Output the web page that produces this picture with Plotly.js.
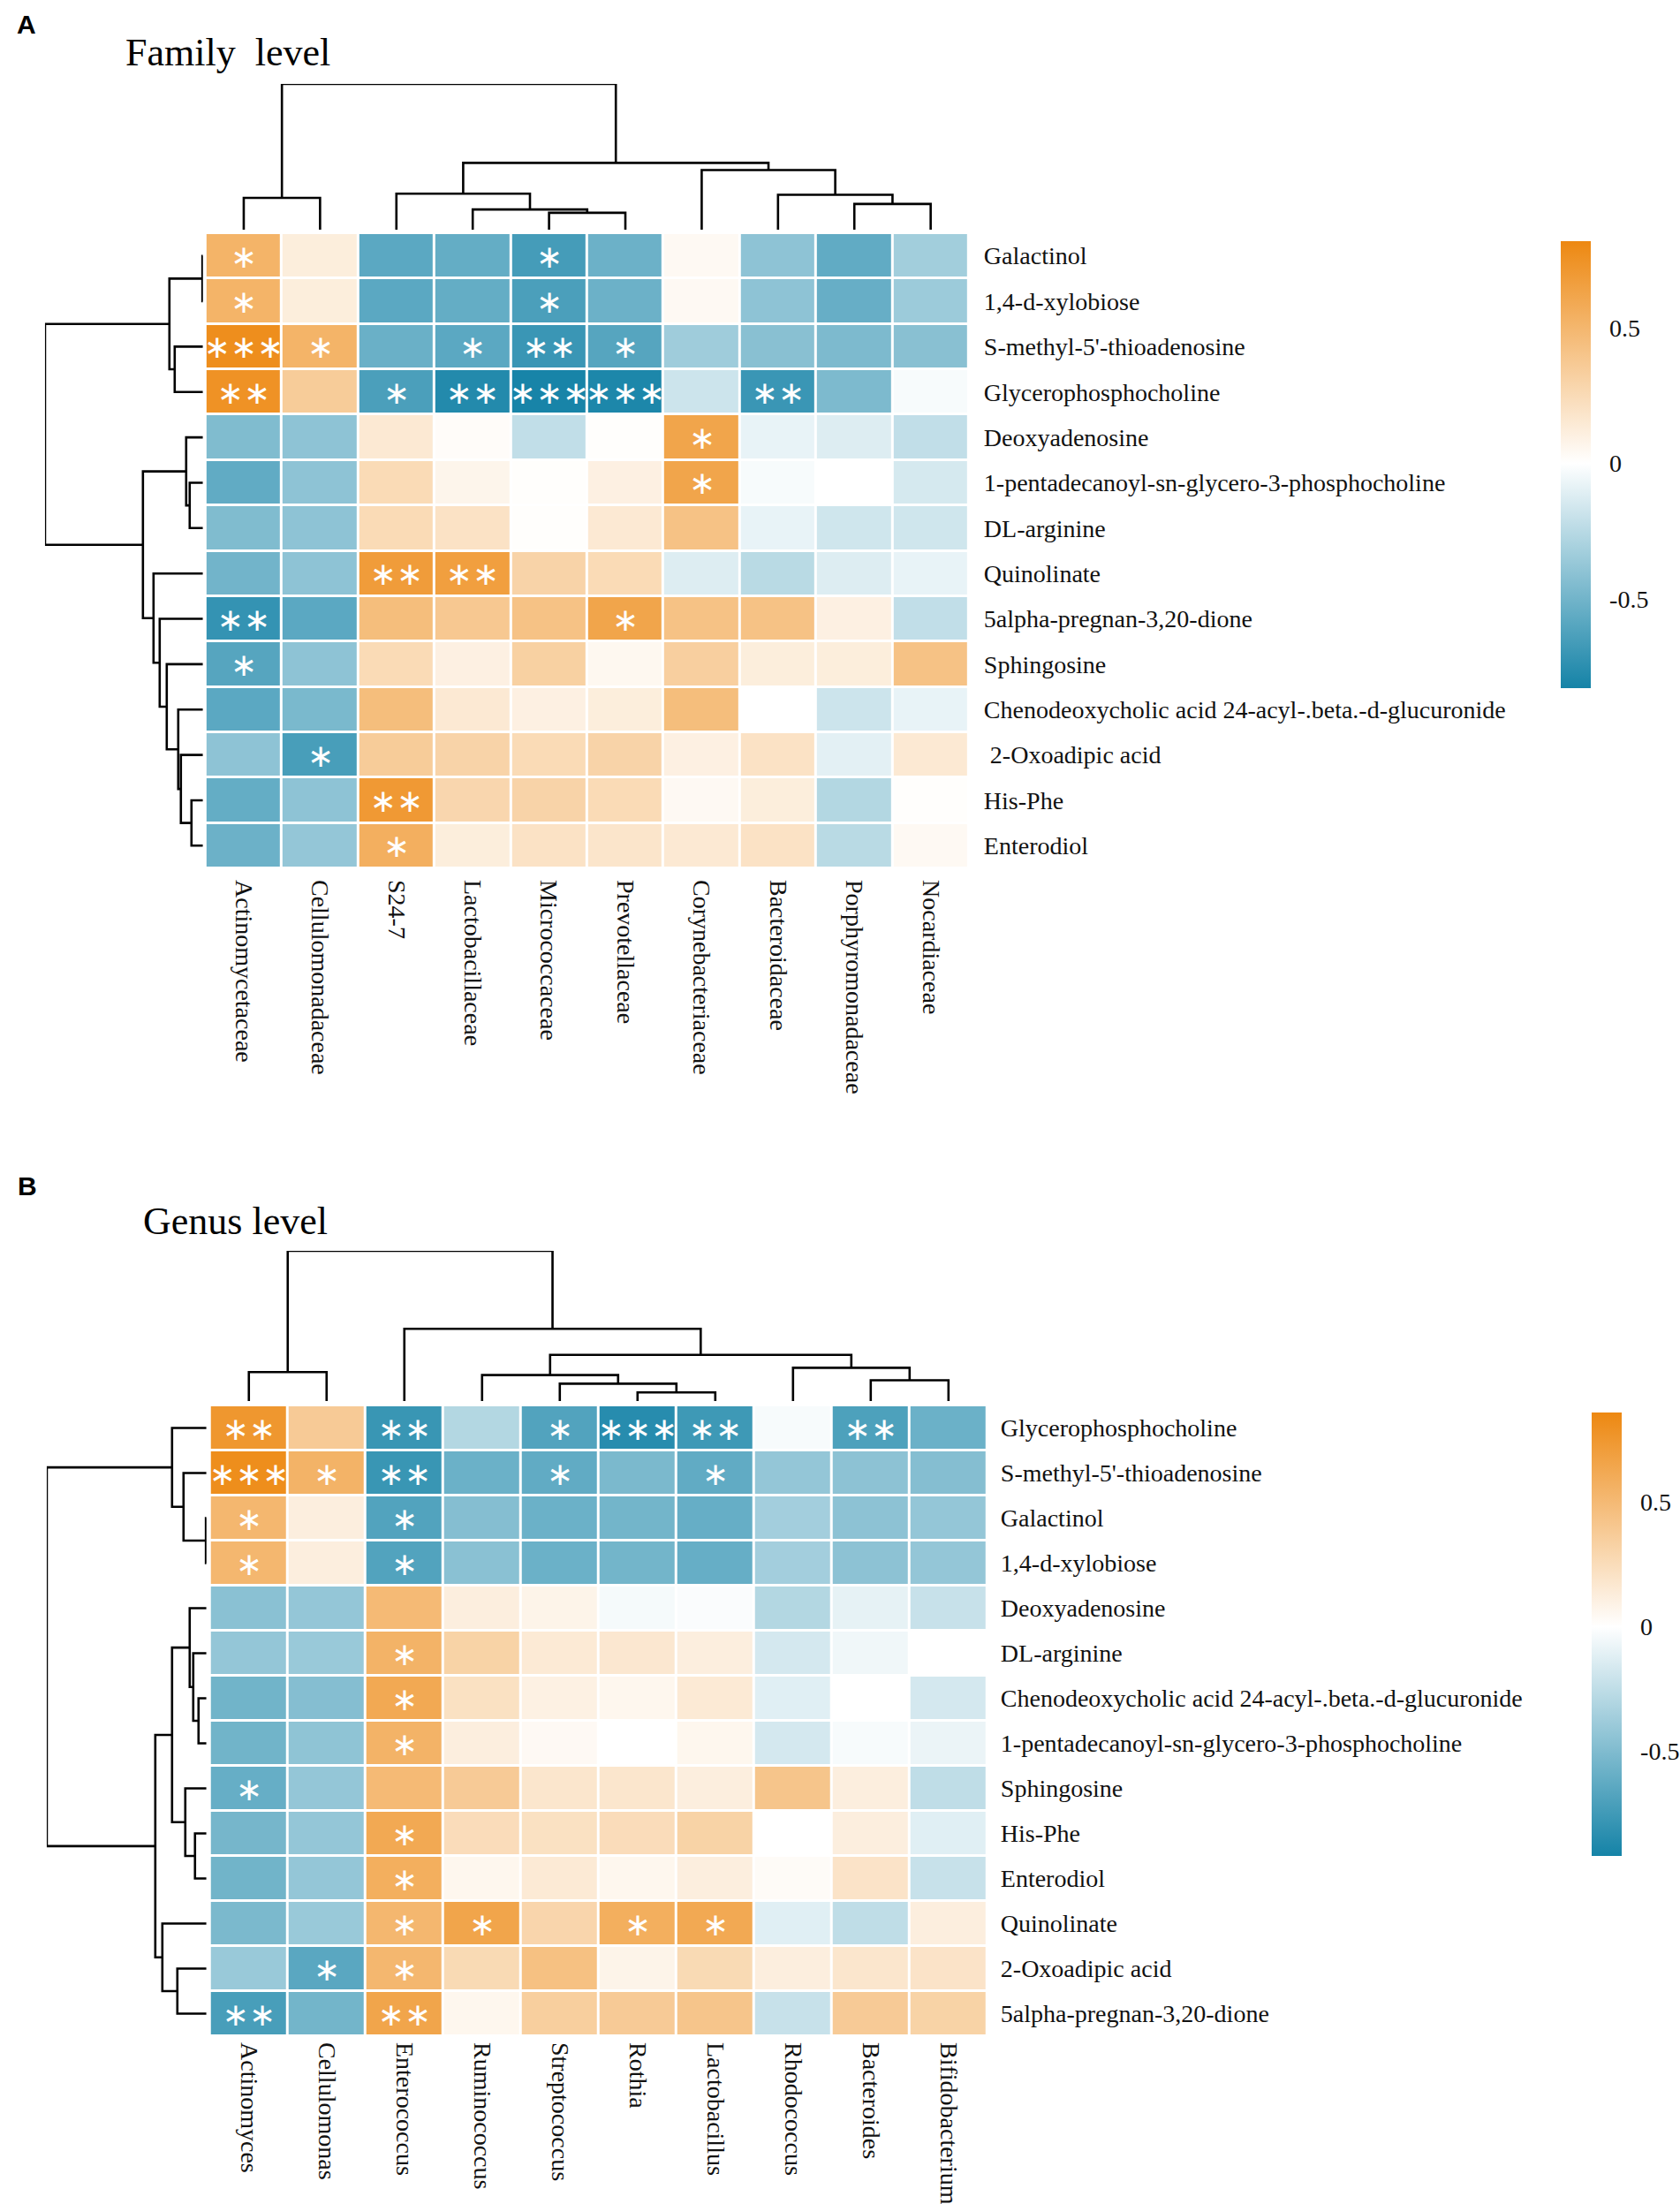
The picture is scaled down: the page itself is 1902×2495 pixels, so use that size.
<!DOCTYPE html>
<html>
<head>
<meta charset="utf-8">
<script src="https://cdn.plot.ly/plotly-3.0.1.min.js"></script>
<style>html,body{margin:0;padding:0;background:#fff;}#chart{width:1902px;height:2495px;}</style>
</head>
<body>
<div id="chart"></div>
<script>
// ---------- Panel A: family level ----------
const colsA = ["Actinomycetaceae","Cellulomonadaceae","S24-7","Lactobacillaceae","Micrococcaceae","Prevotellaceae","Corynebacteriaceae","Bacteroidaceae","Porphyromonadaceae","Nocardiaceae"];
const rowsA = ["Galactinol","1,4-d-xylobiose","S-methyl-5'-thioadenosine","Glycerophosphocholine","Deoxyadenosine","1-pentadecanoyl-sn-glycero-3-phosphocholine","DL-arginine","Quinolinate","5alpha-pregnan-3,20-dione","Sphingosine","Chenodeoxycholic acid 24-acyl-.beta.-d-glucuronide"," 2-Oxoadipic acid","His-Phe","Enterodiol"];
const valuesA = [
  [ 0.52, 0.12,-0.58,-0.55,-0.66,-0.52, 0.04,-0.40,-0.56,-0.33],
  [ 0.52, 0.12,-0.58,-0.55,-0.64,-0.52, 0.04,-0.40,-0.54,-0.35],
  [ 0.78, 0.52,-0.53,-0.58,-0.70,-0.60,-0.34,-0.42,-0.46,-0.42],
  [ 0.75, 0.35,-0.64,-0.78,-0.82,-0.80,-0.18,-0.70,-0.46,-0.03],
  [-0.45,-0.40, 0.15, 0.02,-0.22, 0.01, 0.62,-0.08,-0.12,-0.22],
  [-0.56,-0.40, 0.25, 0.07, 0.01, 0.10, 0.62,-0.03, 0.00,-0.15],
  [-0.45,-0.40, 0.25, 0.20, 0.01, 0.15, 0.42,-0.08,-0.17,-0.17],
  [-0.50,-0.40, 0.68, 0.66, 0.30, 0.25,-0.12,-0.25,-0.12,-0.08],
  [-0.72,-0.58, 0.45, 0.38, 0.42, 0.62, 0.42, 0.42, 0.10,-0.22],
  [-0.60,-0.40, 0.25, 0.10, 0.32, 0.05, 0.33, 0.12, 0.12, 0.42],
  [-0.58,-0.47, 0.45, 0.15, 0.10, 0.12, 0.45, 0.00,-0.18,-0.08],
  [-0.40,-0.65, 0.35, 0.30, 0.25, 0.30, 0.10, 0.20,-0.10, 0.15],
  [-0.55,-0.40, 0.70, 0.28, 0.30, 0.25, 0.04, 0.12,-0.27, 0.01],
  [-0.52,-0.38, 0.55, 0.12, 0.20, 0.18, 0.15, 0.20,-0.25, 0.04]
];
const sigA = [
  [1,0,0,0,1,0,0,0,0,0],
  [1,0,0,0,1,0,0,0,0,0],
  [3,1,0,1,2,1,0,0,0,0],
  [2,0,1,2,3,3,0,2,0,0],
  [0,0,0,0,0,0,1,0,0,0],
  [0,0,0,0,0,0,1,0,0,0],
  [0,0,0,0,0,0,0,0,0,0],
  [0,0,2,2,0,0,0,0,0,0],
  [2,0,0,0,0,1,0,0,0,0],
  [1,0,0,0,0,0,0,0,0,0],
  [0,0,0,0,0,0,0,0,0,0],
  [0,1,0,0,0,0,0,0,0,0],
  [0,0,2,0,0,0,0,0,0,0],
  [0,0,1,0,0,0,0,0,0,0]
];
// dendrogram merges: [left, right, height]; numbers = leaf index, "mK" = K-th merge
const colTreeA = [[4,5,61],[3,"m0",73],[2,"m1",130],[0,1,115],[8,9,93],[7,"m4",126],[6,"m5",215],["m2","m6",241],["m3","m7",526]];
const rowTreeA = [[0,1,0.6],[2,3,32],["m0","m1",38],[5,6,15],[4,"m3",19],[12,13,13],[11,"m5",25],[10,"m6",28],[9,"m7",41],[8,"m8",49],[7,"m9",56],["m4","m10",68],["m2","m11",179]];

// ---------- Panel B: genus level ----------
const colsB = ["Actinomyces","Cellulomonas","Enterococcus","Ruminococcus","Streptococcus","Rothia","Lactobacillus","Rhodococcus","Bacteroides","Bifidobacterium"];
const rowsB = ["Glycerophosphocholine","S-methyl-5'-thioadenosine","Galactinol","1,4-d-xylobiose","Deoxyadenosine","DL-arginine","Chenodeoxycholic acid 24-acyl-.beta.-d-glucuronide","1-pentadecanoyl-sn-glycero-3-phosphocholine","Sphingosine","His-Phe","Enterodiol","Quinolinate","2-Oxoadipic acid","5alpha-pregnan-3,20-dione"];
const valuesB = [
  [ 0.75, 0.38,-0.78,-0.30,-0.68,-0.85,-0.76,-0.03,-0.70,-0.58],
  [ 0.82, 0.55,-0.78,-0.58,-0.62,-0.52,-0.62,-0.42,-0.45,-0.48],
  [ 0.52, 0.12,-0.68,-0.48,-0.58,-0.55,-0.60,-0.36,-0.45,-0.42],
  [ 0.52, 0.12,-0.68,-0.46,-0.58,-0.55,-0.60,-0.36,-0.45,-0.42],
  [-0.46,-0.42, 0.50, 0.12, 0.08,-0.04,-0.02,-0.30,-0.10,-0.22],
  [-0.42,-0.40, 0.55, 0.32, 0.15, 0.17, 0.12,-0.17,-0.06, 0.00],
  [-0.56,-0.48, 0.62, 0.22, 0.10, 0.06, 0.15,-0.12, 0.00,-0.17],
  [-0.56,-0.44, 0.55, 0.12, 0.04, 0.00, 0.06,-0.17,-0.03,-0.08],
  [-0.60,-0.42, 0.50, 0.38, 0.18, 0.18, 0.12, 0.42, 0.12,-0.25],
  [-0.54,-0.42, 0.62, 0.25, 0.22, 0.25, 0.32, 0.00, 0.12,-0.12],
  [-0.56,-0.42, 0.58, 0.06, 0.15, 0.06, 0.12, 0.03, 0.20,-0.22],
  [-0.52,-0.40, 0.52, 0.65, 0.30, 0.58, 0.62,-0.12,-0.25, 0.12],
  [-0.40,-0.65, 0.52, 0.27, 0.45, 0.08, 0.27, 0.12, 0.18, 0.20],
  [-0.72,-0.55, 0.65, 0.06, 0.35, 0.38, 0.42,-0.22, 0.38, 0.32]
];
const sigB = [
  [2,0,2,0,1,3,2,0,2,0],
  [3,1,2,0,1,0,1,0,0,0],
  [1,0,1,0,0,0,0,0,0,0],
  [1,0,1,0,0,0,0,0,0,0],
  [0,0,0,0,0,0,0,0,0,0],
  [0,0,1,0,0,0,0,0,0,0],
  [0,0,1,0,0,0,0,0,0,0],
  [0,0,1,0,0,0,0,0,0,0],
  [1,0,0,0,0,0,0,0,0,0],
  [0,0,1,0,0,0,0,0,0,0],
  [0,0,1,0,0,0,0,0,0,0],
  [0,0,1,1,0,1,1,0,0,0],
  [0,1,1,0,0,0,0,0,0,0],
  [2,0,2,0,0,0,0,0,0,0]
];
const colTreeB = [[0,1,100],[5,6,30],[4,"m1",60],[3,"m2",90],[8,9,72],[7,"m4",115],["m3","m5",160],[2,"m6",250],["m0","m7",520]];
const rowTreeB = [[2,3,0.6],[1,"m0",26],[0,"m1",39],[6,7,9],[5,"m3",15],[4,"m4",19],[9,10,13],[8,"m6",24],["m5","m7",39],[12,13,33],[11,"m9",50],["m8","m10",58],["m2","m11",181]];

const tickVals = [-0.5, 0, 0.5];
const tickText = ["-0.5", "0", "0.5"];

// ---------- helpers ----------
const W = 1902, H = 2495;
const px = v => v / W;
const py = v => 1 - v / H;
const TEAL = '#1583A7', ORANGE = '#ED8811';

function scale(zmin, zmax) {
  const mid = (0 - zmin) / (zmax - zmin);
  return [[0, TEAL], [mid, '#FFFFFF'], [1, ORANGE]];
}

function dendro(tree) {
  const pos = [], hgt = [];
  const P = n => typeof n === 'number' ? n : pos[+n.slice(1)];
  const Hh = n => typeof n === 'number' ? 0 : hgt[+n.slice(1)];
  const a = [], b = [];
  tree.forEach((m, k) => {
    const [l, r, h] = m;
    const pl = P(l), pr = P(r), hl = Hh(l), hr = Hh(r);
    a.push(pl, pl, pr, pr, null);
    b.push(hl, h, h, hr, null);
    pos[k] = (pl + pr) / 2; hgt[k] = h;
  });
  return {pos: a, h: b};
}

const stars = s => s.map(r => r.map(n => '\u2217'.repeat(n)));
const idx = n => Array.from({length: n}, (_, i) => i);

const serif = 'Liberation Serif, Times New Roman, serif';

function panel(opt) {
  const traces = [];
  const hx = 'x' + (opt.ax === 1 ? '' : opt.ax), hy = 'y' + (opt.ax === 1 ? '' : opt.ax);
  traces.push({
    type: 'heatmap', z: opt.values, x: idx(opt.cols.length), y: idx(opt.rows.length),
    text: stars(opt.sig), texttemplate: '%{text}',
    textfont: {color: '#FFFFFF', size: 36, family: 'DejaVu Sans'},
    colorscale: scale(opt.zmin, opt.zmax), zmin: opt.zmin, zmax: opt.zmax,
    xgap: 3, ygap: 3, hoverinfo: 'skip', xaxis: hx, yaxis: hy,
    colorbar: {
      x: px(opt.cb[0]), xanchor: 'left', xpad: 0, ypad: 0,
      y: py((opt.cb[2] + opt.cb[3]) / 2), yanchor: 'middle',
      len: opt.cb[3] - opt.cb[2], lenmode: 'pixels',
      thickness: opt.cb[1] - opt.cb[0], thicknessmode: 'pixels',
      outlinewidth: 0, tickvals: tickVals, ticktext: tickText,
      ticks: 'outside', ticklen: 16, tickcolor: 'rgba(0,0,0,0)',
      tickfont: {family: serif, size: 28, color: '#111'}
    }
  });
  const cd = dendro(opt.colTree);
  traces.push({type: 'scatter', mode: 'lines', x: cd.pos, y: cd.h, line: {color: '#000', width: 2.6},
    hoverinfo: 'skip', xaxis: 'x' + (opt.ax + 1), yaxis: 'y' + (opt.ax + 1)});
  const rd = dendro(opt.rowTree);
  traces.push({type: 'scatter', mode: 'lines', x: rd.h, y: rd.pos, line: {color: '#000', width: 2.6},
    hoverinfo: 'skip', xaxis: 'x' + (opt.ax + 2), yaxis: 'y' + (opt.ax + 2)});

  const nC = opt.cols.length, nR = opt.rows.length;
  const hxDom = [px(opt.hm[0]), px(opt.hm[1])], hyDom = [py(opt.hm[3]), py(opt.hm[2])];
  const lay = {};
  const k = n => (n === 1 ? '' : n);
  lay['xaxis' + k(opt.ax)] = {domain: hxDom, range: [-0.5, nC - 0.5], anchor: hy, tickvals: idx(nC), ticktext: opt.cols,
    tickangle: 90, showgrid: false, zeroline: false, showline: false, ticks: '', ticklabelstandoff: opt.cStand,
    tickfont: {family: serif, size: 28, color: '#111'}, fixedrange: true};
  lay['yaxis' + k(opt.ax)] = {domain: hyDom, range: [nR - 0.5, -0.5], anchor: hx, side: 'right', tickvals: idx(nR), ticktext: opt.rows,
    showgrid: false, zeroline: false, showline: false, ticks: '', ticklabelstandoff: opt.rStand,
    tickfont: {family: serif, size: 28, color: '#111'}, fixedrange: true};
  lay['xaxis' + (opt.ax + 1)] = {domain: hxDom, range: [-0.5, nC - 0.5], anchor: 'y' + (opt.ax + 1), visible: false};
  lay['yaxis' + (opt.ax + 1)] = {domain: [py(opt.cdY[1]), py(opt.cdY[0])], range: [0, opt.colTree[opt.colTree.length - 1][2]], anchor: 'x' + (opt.ax + 1), visible: false};
  lay['xaxis' + (opt.ax + 2)] = {domain: [px(opt.rdX[0]), px(opt.rdX[1])], range: [opt.rowTree[opt.rowTree.length - 1][2], 0], anchor: 'y' + (opt.ax + 2), visible: false};
  lay['yaxis' + (opt.ax + 2)] = {domain: hyDom, range: [nR - 0.5, -0.5], anchor: 'x' + (opt.ax + 2), visible: false};
  return {traces, lay};
}

const A = panel({ax: 1, cols: colsA, rows: rowsA, values: valuesA, sig: sigA, colTree: colTreeA, rowTree: rowTreeA,
  zmin: -0.83, zmax: 0.82, hm: [233, 1098, 264, 983], cdY: [95, 260], rdX: [51, 230], cb: [1769, 1803, 273, 779], cStand: 12, rStand: 16});
const B = panel({ax: 4, cols: colsB, rows: rowsB, values: valuesB, sig: sigB, colTree: colTreeB, rowTree: rowTreeB,
  zmin: -0.92, zmax: 0.86, hm: [238, 1119, 1591, 2305], cdY: [1416, 1586], rdX: [53, 234], cb: [1804, 1838, 1599, 2101], cStand: 6, rStand: 14});

const layout = Object.assign({
  width: W, height: H, margin: {l: 0, r: 0, t: 0, b: 0},
  paper_bgcolor: '#FFFFFF', plot_bgcolor: '#FFFFFF', showlegend: false,
  annotations: [
    {text: '<b>A</b>', x: px(17), y: py(28), xref: 'paper', yref: 'paper', xanchor: 'left', yanchor: 'middle', showarrow: false, font: {family: 'Liberation Sans, Arial', size: 30, color: '#000'}},
    {text: 'Family  level', x: px(140), y: py(59), xref: 'paper', yref: 'paper', xanchor: 'left', yanchor: 'middle', showarrow: false, font: {family: serif, size: 44, color: '#000'}},
    {text: '<b>B</b>', x: px(18), y: py(1342), xref: 'paper', yref: 'paper', xanchor: 'left', yanchor: 'middle', showarrow: false, font: {family: 'Liberation Sans, Arial', size: 30, color: '#000'}},
    {text: 'Genus level', x: px(160), y: py(1382), xref: 'paper', yref: 'paper', xanchor: 'left', yanchor: 'middle', showarrow: false, font: {family: serif, size: 44, color: '#000'}}
  ]
}, A.lay, B.lay);

Plotly.newPlot('chart', A.traces.concat(B.traces), layout, {staticPlot: true, displayModeBar: false});
</script>
</body>
</html>
